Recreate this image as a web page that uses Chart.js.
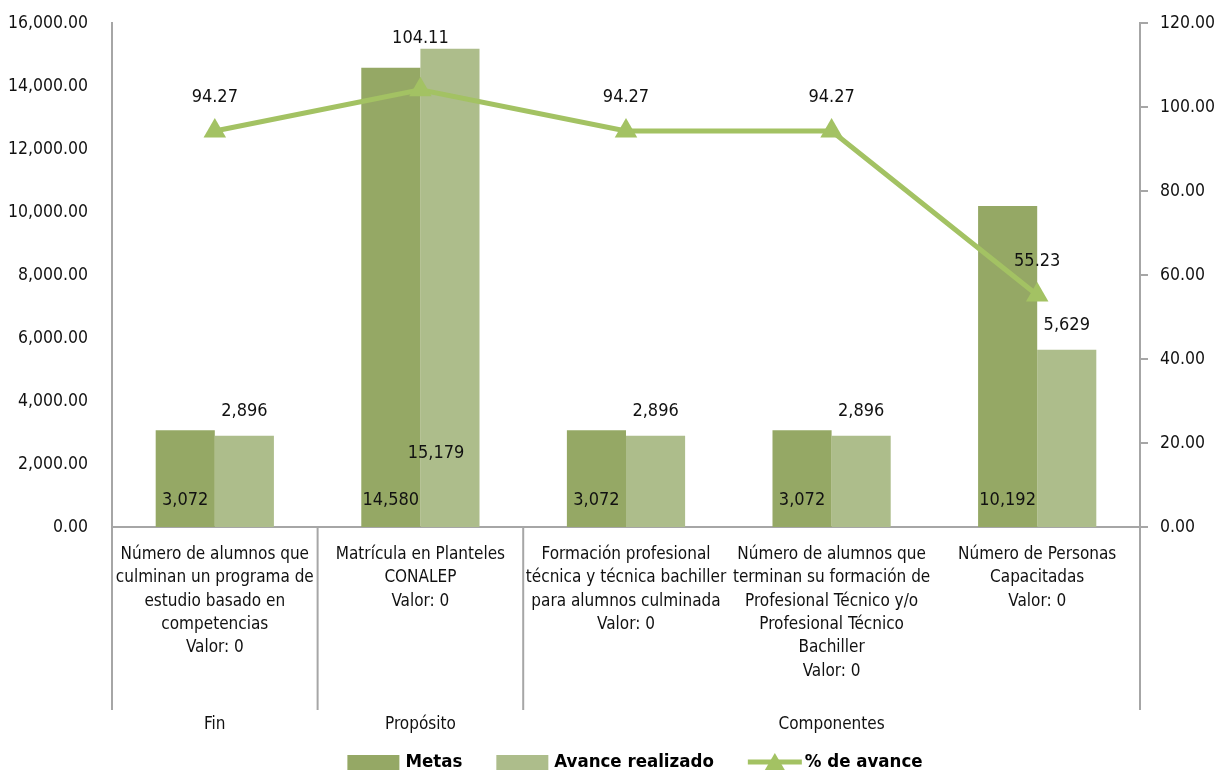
<!DOCTYPE html>
<html lang="es">
<head>
<meta charset="UTF-8">
<title>Metas y avance</title>
<script src="https://cdn.jsdelivr.net/npm/chart.js@4.4.1/dist/chart.umd.min.js"></script>
<style>
  html, body { margin: 0; padding: 0; background: #fff; }
  #wrap { width: 1216px; height: 771px; }
</style>
</head>
<body>
<div id="wrap"><canvas id="chart"></canvas></div>
<script>
// datos
const categorias = [
  ['Número de alumnos que', 'culminan un programa de', 'estudio basado en', 'competencias', 'Valor: 0'],
  ['Matrícula en Planteles', 'CONALEP', 'Valor: 0'],
  ['Formación profesional', 'técnica y técnica bachiller', 'para alumnos culminada', 'Valor: 0'],
  ['Número de alumnos que', 'terminan su formación de', 'Profesional Técnico y/o', 'Profesional Técnico', 'Bachiller', 'Valor: 0'],
  ['Número de Personas', 'Capacitadas', 'Valor: 0']
];
const grupos = ['Fin', 'Propósito', 'Componentes'];
const grupoDeCategoria = [0, 1, 2, 2, 2];
const metas = [3072, 14580, 3072, 3072, 10192];
const avance = [2896, 15179, 2896, 2896, 5629];
const porcentaje = [94.27, 104.11, 94.27, 94.27, 55.23];

const FONT = "'Liberation Sans Narrow', 'DejaVu Sans Condensed', sans-serif";
const colMetas = '#95a865';
const colAvance = '#adbd8b';
const colLinea = '#a3c263';
const gris = '#a6a6a6';

const fmtMiles = v => Number(v).toLocaleString('en-US');
const fmt2 = v => Number(v).toLocaleString('en-US', {minimumFractionDigits: 2, maximumFractionDigits: 2});

// etiquetas de datos
const etiquetas = {
  id: 'etiquetas',
  afterDatasetsDraw(chart) {
    const ctx = chart.ctx;
    const mBar = chart.getDatasetMeta(0).data;
    const aBar = chart.getDatasetMeta(1).data;
    const pts = chart.getDatasetMeta(2).data;
    ctx.save();
    ctx.font = '18px ' + FONT;
    ctx.fillStyle = '#111';
    ctx.textAlign = 'center';
    ctx.textBaseline = 'middle';
    mBar.forEach((el, i) => {
      ctx.fillText(fmtMiles(metas[i]), el.x, el.base - 27);
    });
    aBar.forEach((el, i) => {
      if (el.y < pts[i].y) {
        ctx.fillText(fmtMiles(avance[i]), el.x - 14, el.base - 74);
      } else {
        ctx.fillText(fmtMiles(avance[i]), el.x, el.y - 24);
      }
    });
    pts.forEach((pt, i) => {
      let y = pt.y - 34;
      if (aBar[i].y < y + 12) y = aBar[i].y - 11;
      ctx.fillText(fmt2(porcentaje[i]), pt.x, y);
    });
    ctx.restore();
  }
};

// separadores, grupos y leyenda
const extras = {
  id: 'extras',
  afterDraw(chart) {
    const ctx = chart.ctx;
    const x = chart.scales.x;
    const area = chart.chartArea;
    const paso = (area.right - area.left) / categorias.length;
    const yFin = 710;
    ctx.save();
    ctx.strokeStyle = gris;
    ctx.lineWidth = 2;
    // separadores entre grupos
    const bordes = [0];
    for (let i = 1; i < categorias.length; i++) {
      if (grupoDeCategoria[i] !== grupoDeCategoria[i - 1]) bordes.push(i);
    }
    bordes.push(categorias.length);
    bordes.forEach(b => {
      const px = area.left + b * paso;
      ctx.beginPath();
      ctx.moveTo(px, area.bottom);
      ctx.lineTo(px, yFin);
      ctx.stroke();
    });
    // nombres de grupo
    ctx.font = '17px ' + FONT;
    ctx.fillStyle = '#111';
    ctx.textAlign = 'center';
    ctx.textBaseline = 'middle';
    grupos.forEach((g, gi) => {
      const idx = grupoDeCategoria.map((v, i) => v === gi ? i : -1).filter(i => i >= 0);
      const cx = (x.getPixelForValue(idx[0]) + x.getPixelForValue(idx[idx.length - 1])) / 2;
      ctx.fillText(g, cx, 725);
    });

    // leyenda
    const ds = chart.data.datasets;
    ctx.font = 'bold 18.5px ' + FONT;
    ctx.textAlign = 'left';
    const items = ds.map(d => ({texto: d.label, ancho: ctx.measureText(d.label).width, tipo: d.type, color: d.backgroundColor}));
    const muestra = it => it.tipo === 'line' ? 54 : 52;
    const hueco = it => it.tipo === 'line' ? 3 : 6;
    let total = 0;
    items.forEach((it, i) => { total += muestra(it) + hueco(it) + it.ancho + (i < items.length - 1 ? 34 : 0); });
    let lx = 635 - total / 2;
    const ly = 762;
    items.forEach(it => {
      if (it.tipo === 'line') {
        ctx.strokeStyle = colLinea;
        ctx.lineWidth = 5;
        ctx.beginPath();
        ctx.moveTo(lx, ly);
        ctx.lineTo(lx + 54, ly);
        ctx.stroke();
        ctx.fillStyle = colLinea;
        ctx.beginPath();
        ctx.moveTo(lx + 27, ly - 9);
        ctx.lineTo(lx + 37, ly + 8);
        ctx.lineTo(lx + 17, ly + 8);
        ctx.closePath();
        ctx.fill();
      } else {
        ctx.fillStyle = it.color;
        ctx.fillRect(lx, ly - 7, 52, 15);
      }
      lx += muestra(it) + hueco(it);
      ctx.fillStyle = '#000';
      ctx.fillText(it.texto, lx, ly);
      lx += it.ancho + 34;
    });
    ctx.restore();
  }
};

new Chart(document.getElementById('chart'), {
  data: {
    labels: categorias,
    datasets: [
      {
        type: 'bar', label: 'Metas', data: metas, yAxisID: 'y',
        backgroundColor: colMetas, categoryPercentage: 0.575, barPercentage: 1, order: 2
      },
      {
        type: 'bar', label: 'Avance realizado', data: avance, yAxisID: 'y',
        backgroundColor: colAvance, categoryPercentage: 0.575, barPercentage: 1, order: 2
      },
      {
        type: 'line', label: '% de avance', data: porcentaje, yAxisID: 'y1',
        borderColor: colLinea, backgroundColor: colLinea, borderWidth: 5, tension: 0,
        pointStyle: 'triangle', pointRadius: 13, pointBorderWidth: 0,
        pointBackgroundColor: colLinea, order: 1
      }
    ]
  },
  options: {
    responsive: true,
    maintainAspectRatio: false,
    animation: false,
    layout: { padding: { top: 23, bottom: 0, left: 0, right: 0 } },
    plugins: { legend: { display: false }, tooltip: { enabled: false } },
    scales: {
      x: {
        grid: { display: false, drawTicks: false },
        border: { display: true, color: gris, width: 2 },
        ticks: {
          autoSkip: false, maxRotation: 0, minRotation: 0, padding: 16,
          color: '#111', font: { family: FONT, size: 17, lineHeight: 1.37 }
        },
        afterFit(s) { s.height = 244; }
      },
      y: {
        position: 'left', min: 0, max: 16000,
        grid: { display: false, drawTicks: false },
        border: { display: true, color: gris, width: 2 },
        ticks: {
          stepSize: 2000, padding: 24, color: '#111',
          font: { family: FONT, size: 17.5 },
          callback: v => fmt2(v)
        },
        afterFit(s) { s.width = 112; s.paddingTop = 0; s.paddingBottom = 0; }
      },
      y1: {
        position: 'right', min: 0, max: 120,
        grid: { display: true, drawOnChartArea: false, drawTicks: true, tickLength: 8, color: gris, lineWidth: 2 },
        border: { display: true, color: gris, width: 2 },
        ticks: {
          stepSize: 20, padding: 12, color: '#111',
          font: { family: FONT, size: 17.5 },
          callback: v => fmt2(v)
        },
        afterFit(s) { s.width = 76; s.paddingTop = 0; s.paddingBottom = 0; }
      }
    }
  },
  plugins: [etiquetas, extras]
});
</script>
</body>
</html>
